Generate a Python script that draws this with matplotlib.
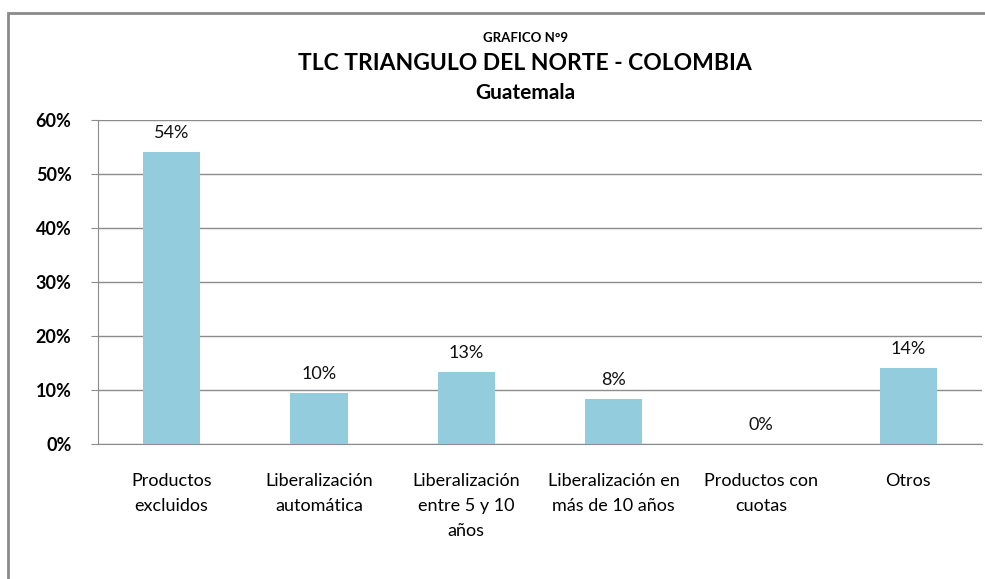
import matplotlib.pyplot as plt
from matplotlib.patches import Rectangle
from matplotlib.ticker import PercentFormatter

# datos
categorias = ['Productos\nexcluidos', 'Liberalización\nautomática', 'Liberalización\nentre 5 y 10\naños',
              'Liberalización en\nmás de 10 años', 'Productos con\ncuotas', 'Otros']
valores = [0.541, 0.094, 0.133, 0.083, 0.0, 0.141]
etiquetas = ['54%', '10%', '13%', '8%', '0%', '14%']

plt.rcParams['font.family'] = ['Lato', 'DejaVu Sans']

fig = plt.figure(figsize=(9.85, 5.79), dpi=100)
ax = fig.add_axes([0.0995, 0.2332, 0.8975, 0.5595])

# marco gris
fig.patches.append(Rectangle((8/985, -0.1), 1.2, 1 - 13/579 + 0.1, transform=fig.transFigure,
                             fill=False, edgecolor='#8a8a8a', linewidth=2))

x = range(len(categorias))
ax.bar(x, valores, width=0.39, color='#93CDDD', zorder=3)
for i, v in enumerate(valores):
    ax.text(i, v + 0.02, etiquetas[i], ha='center', va='bottom', fontsize=13, color='#111111')

ax.set_xlim(-0.5, len(categorias) - 0.5)
ax.set_ylim(0, 0.6)
ax.set_yticks([0, 0.1, 0.2, 0.3, 0.4, 0.5, 0.6])
ax.yaxis.set_major_formatter(PercentFormatter(1.0, decimals=0))
ax.grid(axis='y', color='#8c8c8c', linewidth=1, zorder=0)
ax.set_xticks(list(x))
ax.set_xticklabels(categorias, fontsize=13, linespacing=1.68)
ax.tick_params(axis='x', length=0, pad=21)
ax.tick_params(axis='y', length=5, color='#8c8c8c', pad=14, labelsize=13)
for lbl in ax.get_yticklabels():
    lbl.set_fontweight('bold')
for s in ['top', 'right']:
    ax.spines[s].set_visible(False)
ax.spines['left'].set_color('#8c8c8c')
ax.spines['bottom'].set_color('#8c8c8c')

fig.text(0.533, 1 - 38/579, 'GRAFICO N°9', ha='center', va='center', fontsize=9.5, fontweight='bold')
fig.text(0.533, 1 - 63/579, 'TLC TRIANGULO DEL NORTE - COLOMBIA', ha='center', va='center',
         fontsize=16.5, fontweight='bold')
fig.text(0.533, 1 - 93/579, 'Guatemala', ha='center', va='center', fontsize=15, fontweight='bold')

plt.savefig('out.png', dpi=100)
